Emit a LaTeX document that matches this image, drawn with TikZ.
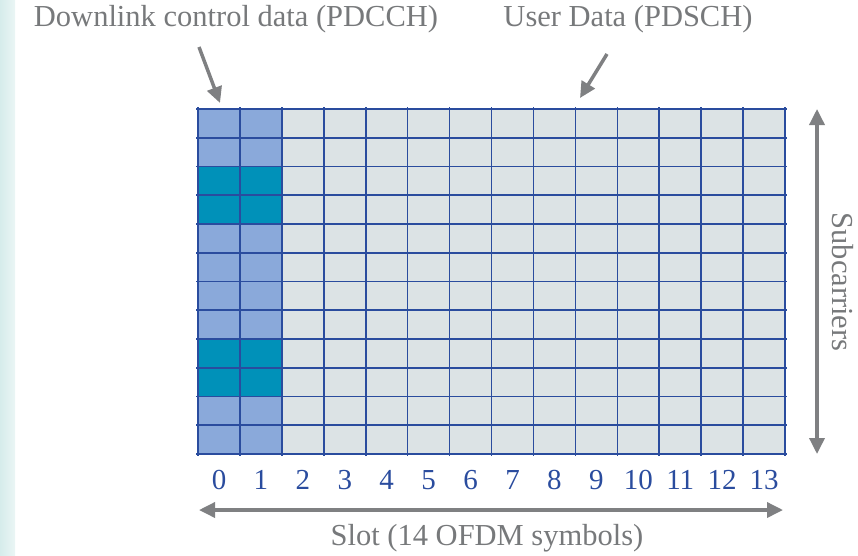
\documentclass[tikz,border=0pt]{standalone}
\usepackage{fontspec}
\setmainfont{Liberation Serif}
\usetikzlibrary{arrows.meta}
\definecolor{ctrlblue}{HTML}{8AA9DA}
\definecolor{ctrlteal}{HTML}{0091B9}
\definecolor{datagrey}{HTML}{DCE3E5}
\definecolor{gridblue}{HTML}{2A4C9E}
\definecolor{arrgrey}{HTML}{7F8082}
\definecolor{txtgrey}{HTML}{77797B}
\definecolor{stripbg}{HTML}{D6ECEB}
\tikzset{
  cellbox/.style={fill=datagrey, draw=none},
  gridln/.style={draw=gridblue, line width=1.6pt},
  pointer/.style={draw=arrgrey, line width=3.5pt, -{Triangle[length=16pt,width=15pt]}},
  span/.style={draw=arrgrey, line width=3.5pt, {Triangle[length=16pt,width=15pt]}-{Triangle[length=16pt,width=15pt]}},
  lbl/.style={text=txtgrey, font=\fontsize{30.5}{34}\selectfont, inner sep=0pt},
  num/.style={text=gridblue, font=\fontsize{29}{32}\selectfont, inner sep=0pt}
}
\begin{document}
\begin{tikzpicture}[x=1pt, y=-1pt]
          \useasboundingbox (0,0) rectangle (858,555);
          % faint strip of the slide background
          \shade[left color=stripbg, right color=stripbg!50] (0,0) rectangle (15,555);
          % resource grid: 14 symbols x 12 subcarriers
          \fill[cellbox] (198,109) rectangle (785,454);
          \fill[ctrlblue] (198,109) rectangle (282,454);
          \fill[ctrlteal] (198,166.5) rectangle (282,224);
          \fill[ctrlteal] (198,339) rectangle (282,396.5);
          \foreach \i in {0,...,14}
            \draw[gridln] (198+\i*41.93,107) -- (198+\i*41.93,456);
          \foreach \j in {0,...,12}
            \draw[gridln] (196,109+\j*28.75) -- (787,109+\j*28.75);
          \foreach \i in {0,...,13}
            \node[num] (sym\i) at (219+\i*41.93,480) {\i};
          \node[lbl] (pdcch) at (236,19) {Downlink control data (PDCCH)};
          \node[lbl] (pdsch) at (628,19) {User Data (PDSCH)};
          \coordinate (pdcchtip) at (220,103);
          \coordinate (pdschtip) at (580,98);
          \draw[pointer] (199,47) -- (pdcchtip);
          \draw[pointer] (607,54) -- (pdschtip);
          \coordinate (sctop) at (817,109);
          \coordinate (scbot) at (817,454);
          \draw[span] (sctop) -- (scbot);
          \node[lbl, rotate=-90] (subc) at (843,282) {Subcarriers};
          \coordinate (slotl) at (199,510);
          \coordinate (slotr) at (783,510);
          \draw[span] (slotl) -- (slotr);
          \node[lbl] (slot) at (487,538) {Slot (14 OFDM symbols)};
        \end{tikzpicture}
\end{document}
